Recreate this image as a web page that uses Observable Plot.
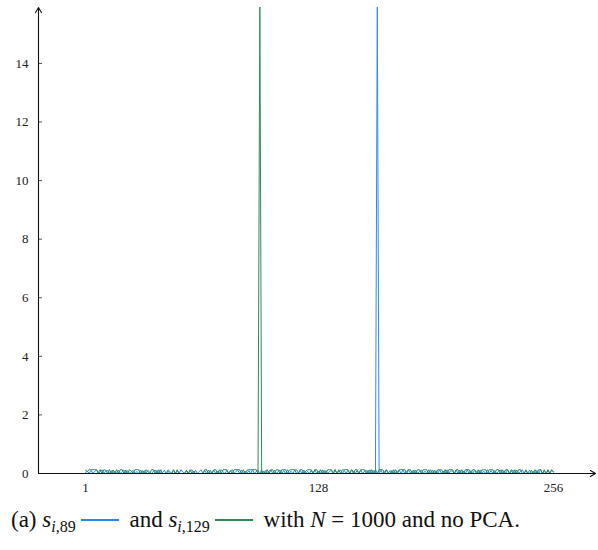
<!DOCTYPE html>
<html>
<head>
<meta charset="utf-8">
<script src="https://cdn.jsdelivr.net/npm/d3@7"></script>
<script src="https://cdn.jsdelivr.net/npm/@observablehq/plot@0.6"></script>
<style>
  body { margin: 0; background: #fff; }
  #cap { font-family: "Liberation Serif", serif; font-size: 23px; line-height: 30px; color: #111; padding-left: 11px; margin-top: 5px; white-space: nowrap; }
  #cap i { font-style: italic; }
  #cap sub { font-size: 16px; vertical-align: -5px; line-height: 0; }
  .sw { display: inline-block; width: 38px; height: 2px; vertical-align: 6px; margin: 0 5px; }
</style>
</head>
<body>
<div id="chart"></div>
<div id="cap">(a) <i>s</i><sub><i>i</i>,89</sub><span class="sw" style="background:#2a8cf0"></span> and <i>s</i><sub><i>i</i>,129</sub><span class="sw" style="background:#2e8b57"></span> with <i>N</i> = 1000 and no PCA.</div>
<script>
const xTicks = [1, 128, 256];
const yTicks = [0, 2, 4, 6, 8, 10, 12, 14];
const xDomain = [-24.6, 278.9];
const yDomain = [0, 15.91];
const blueColor = "#2a8cf0";
const greenColor = "#2e8b57";

// s_{i,89} (blue), i = 1..256
const blue = [
  .03,.08,0,.11,0,.07,.12,0,.05,.13,0,.08,.11,0,.1,0,
  .08,0,.11,0,.07,.12,0,.1,0,.05,.11,0,.07,0,.12,0,
  .1,0,.11,.04,0,.08,.12,0,.13,0,.03,.11,0,.13,.07,0,
  .12,0,.1,0,.13,.05,0,.11,0,.08,.13,0,.11,0,.07,.13,
  0,.1,0,.12,0,.07,.11,0,.08,0,.13,.05,0,.11,0,.08,
  .13,0,.07,.11,0,.12,0,.08,0,.1,0,.13,0,.07,.11,0,
  .12,0,.1,0,.08,.13,0,.11,0,.07,.12,0,.1,0,.13,0,
  .08,0,.11,.13,0,.1,0,.12,0,.07,0,.11,0,.13,0,.08,
  0,.12,0,.1,0,.07,.11,0,.13,0,.08,.12,0,.1,0,.11,
  0,.13,.07,0,.1,0,.12,0,.08,.11,0,.13,0,.1,0,16,
  0,.11,0,.08,.12,0,.1,0,.13,0,.07,.11,0,.12,0,.08,
  .13,0,.1,0,.11,0,.07,.12,0,.08,0,.13,0,.11,0,.1,
  0,.12,0,.08,0,.13,0,.1,.07,0,.11,0,.12,0,.08,0,
  .13,0,.1,0,.11,.07,0,.12,0,.08,0,.13,0,.1,0,.11,
  0,.07,.12,0,.1,0,.13,0,.08,.11,0,.12,0,.07,.13,0,
  .1,0,.12,0,.08,0,.11,0,.13,0,.07,0,.1,0,.12,.04
];

// s_{i,129} (green), i = 1..256
const green = [
  .11,.07,.13,.13,.13,.13,.13,.03,.13,0,.13,.11,0,.13,0,.12,
  0,.13,0,.13,.13,0,.12,0,.13,.08,0,.13,.13,.13,0,.1,
  0,.13,.07,0,.13,.13,0,.11,0,.13,0,0,0,.08,0,0,
  .13,0,.13,0,0,0,0,.1,0,.13,0,.08,0,0,0,0,
  0,.13,.13,0,.11,0,.13,.13,0,.13,0,.13,.13,.13,0,.1,
  0,.13,.13,.13,.13,0,.13,0,.11,.13,.13,.13,.13,.13,0,16,
  0,.07,0,.13,0,.12,.13,0,.13,.13,0,.13,.13,.13,0,.11,
  .13,.13,.13,0,0,.13,.13,0,.08,.13,.13,.13,0,.13,.13,0,
  .13,0,.11,0,.13,.13,.13,0,.13,0,.13,0,.12,.13,.13,.13,
  0,.13,0,.13,.13,0,.13,.13,.13,0,.11,0,.13,0,.13,0,
  .13,.13,.13,0,.13,0,0,.11,0,.13,0,.13,.13,.13,.13,0,
  .13,.13,0,.12,0,.13,.13,0,.13,.13,.13,0,.13,0,.11,0,
  .13,.13,.13,0,.13,0,.13,.13,.13,0,.13,.13,0,.13,0,.13,
  .13,.13,0,.13,.13,0,.13,0,.12,.13,.13,0,.13,.13,.13,0,
  .13,.13,0,.13,0,.13,.13,0,.13,0,.13,0,.13,.13,0,0,
  .13,0,0,.11,0,.13,0,.13,.13,0,.13,0,.13,0,.13,.07
];

const idx = d3.range(1, blue.length + 1);
const blueData = idx.map((i, k) => ({i, v: blue[k]}));
const greenData = idx.map((i, k) => ({i, v: green[k]}));

const font = "Liberation Serif, serif";

const plot = Plot.plot({
  width: 598,
  height: 500,
  marginLeft: 38,
  marginRight: 3,
  marginTop: 7,
  marginBottom: 27,
  style: { fontFamily: font, fontSize: "13px", background: "#fff", color: "#222" },
  x: { domain: xDomain, axis: null },
  y: { domain: yDomain, axis: null },
  marks: [
    Plot.lineY(blueData, { x: "i", y: "v", stroke: blueColor, strokeWidth: 1, clip: true }),
    Plot.lineY(greenData, { x: "i", y: "v", stroke: greenColor, strokeWidth: 1, clip: true }),
    Plot.axisY({ ticks: yTicks, tickSize: 0, tickPadding: 10, fontSize: 13, fill: "#222", label: null }),
    Plot.axisY({ ticks: yTicks, tickSize: -4, tickFormat: () => "", stroke: "#555", label: null }),
    Plot.axisX({ ticks: xTicks, tickSize: 0, tickPadding: 9, fontSize: 13, fill: "#222", label: null }),
    Plot.arrow([0], { x1: xDomain[0], y1: 0, x2: xDomain[0], y2: yDomain[1], stroke: "#111", strokeWidth: 1.1, headLength: 8 }),
    Plot.arrow([0], { x1: xDomain[0], y1: 0, x2: xDomain[1], y2: 0, stroke: "#111", strokeWidth: 1.1, headLength: 8 })
  ]
});
document.getElementById("chart").appendChild(plot);
</script>
</body>
</html>
